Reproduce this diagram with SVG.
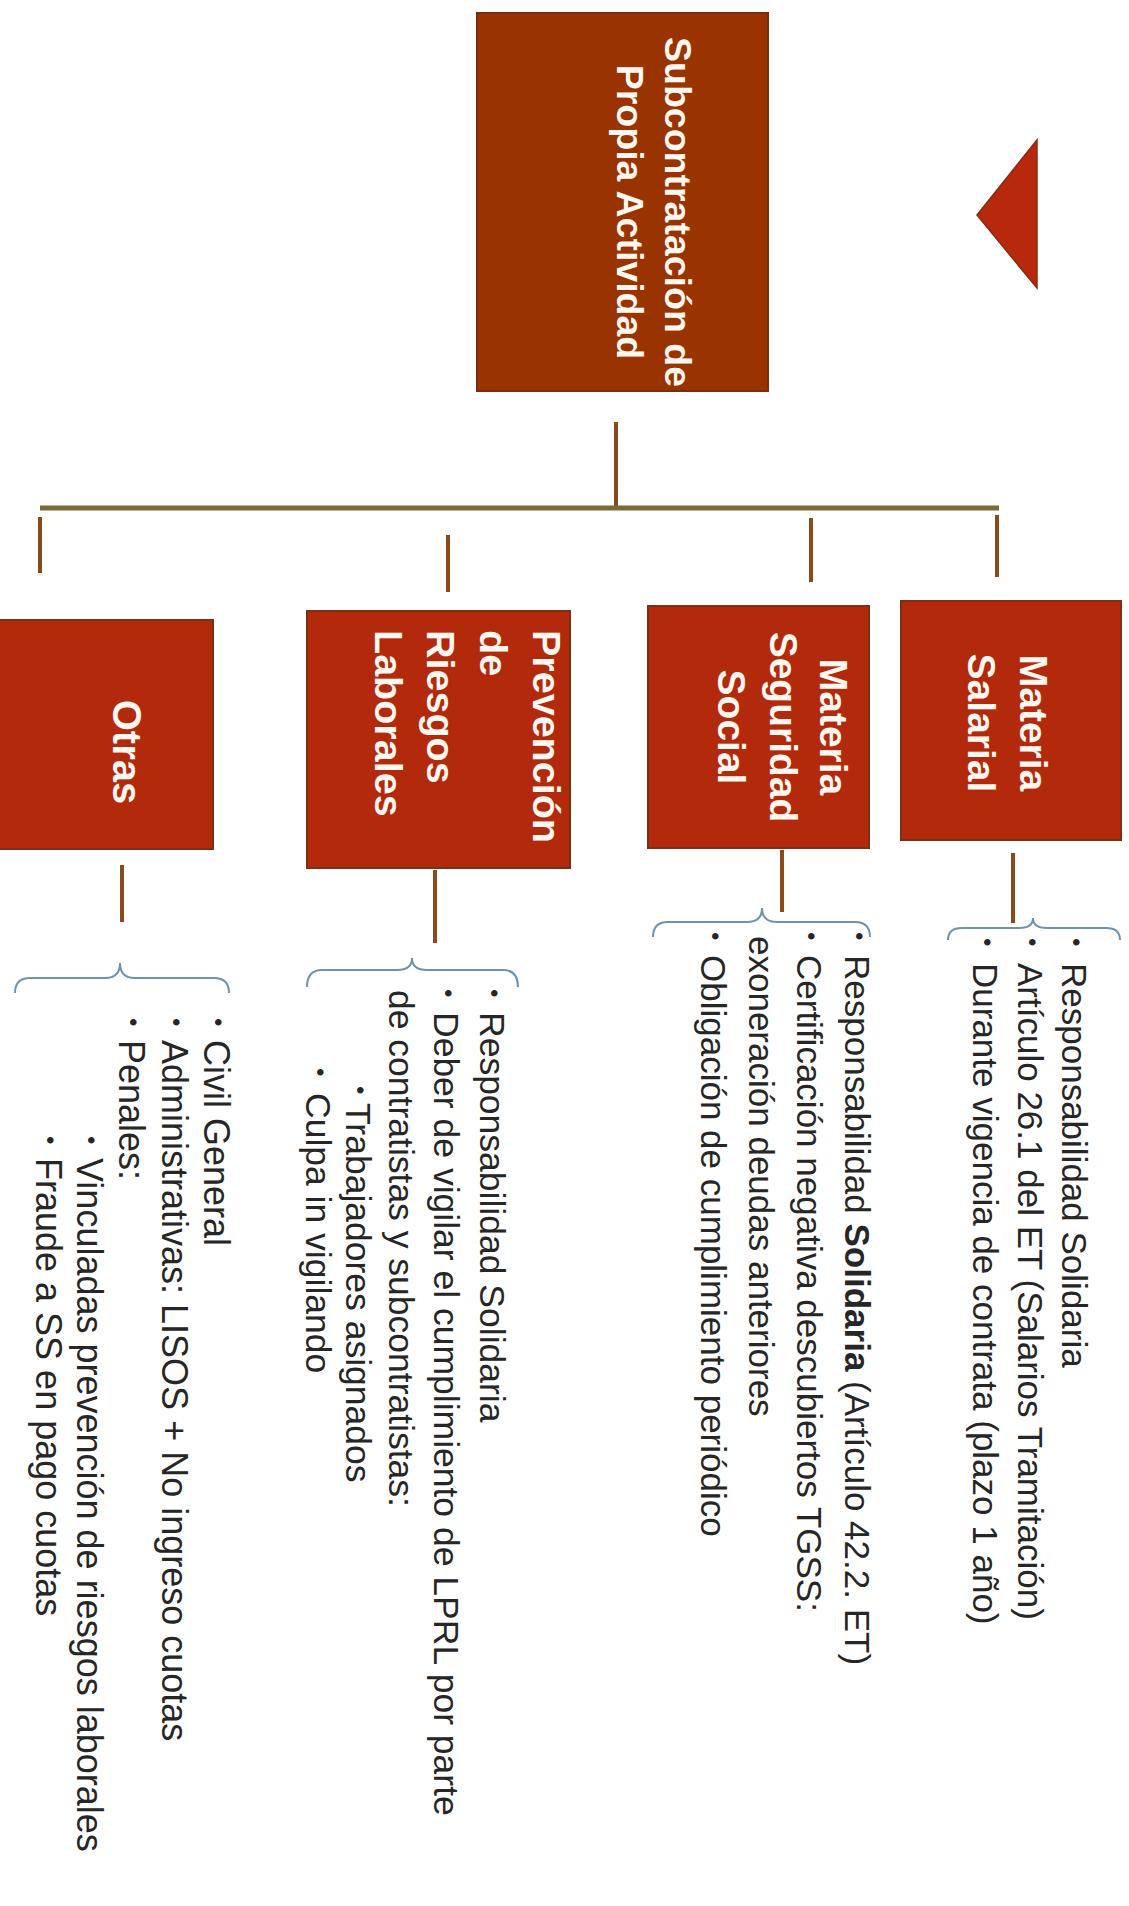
<svg xmlns="http://www.w3.org/2000/svg" width="1129" height="1906" viewBox="0 0 1129 1906">
  <style>
    .root { fill: #993300; stroke: #7a2c0c; stroke-width: 2; }
    .box { fill: #b3290b; stroke: #7e2e12; stroke-width: 2; }
    .hd { font-family: "Liberation Sans", Arial, sans-serif; font-weight: bold; fill: #fff7f0; }
    .lst { font-family: "Liberation Sans", Arial, sans-serif; font-size: 35px; fill: #262626; }
    .blt { font-size: 24px; }
    .bar { stroke: #7d6a3a; stroke-width: 5; fill: none; }
    .stem { stroke: #8a4a1c; stroke-width: 4; fill: none; }
    .brace { stroke: #6f93ab; stroke-width: 2; fill: none; }
  </style>

  <!-- page background -->
  <rect x="0" y="0" width="1129" height="1906" fill="#ffffff"/>

  <!-- decorative pointer -->
  <polygon points="977,215 1037,140 1037,288" fill="#b8280c" stroke="#8a2a10" stroke-width="1.5"/>

  <!-- connectors -->
  <g id="connectors">
    <line class="stem" x1="616" y1="422" x2="616" y2="508"/>
    <line class="bar" x1="40" y1="508" x2="999" y2="508"/>
    <line class="stem" x1="40" y1="517" x2="40" y2="573"/>
    <line class="stem" x1="448" y1="535" x2="448" y2="592"/>
    <line class="stem" x1="811" y1="518" x2="811" y2="582"/>
    <line class="stem" x1="997" y1="515" x2="997" y2="577"/>
    <line class="stem" x1="1013" y1="853" x2="1013" y2="923"/>
    <line class="stem" x1="782" y1="850" x2="782" y2="912"/>
    <line class="stem" x1="435" y1="870" x2="435" y2="943"/>
    <line class="stem" x1="122" y1="865" x2="122" y2="922"/>
    <!-- curly braces over each list -->
    <path class="brace" d="M948,940 Q948,928 962,928 L1019,928 Q1033,928 1033,918 Q1033,928 1047,928 L1106,928 Q1120,928 1120,940"/>
    <path class="brace" d="M653,937 Q653,922 668,922 L747,922 Q762,922 762,908 Q762,922 777,922 L855,922 Q870,922 870,937"/>
    <path class="brace" d="M307,987 Q307,970 322,970 L397,970 Q412,970 412,958 Q412,970 427,970 L503,970 Q518,970 518,987"/>
    <path class="brace" d="M15,993 Q15,978 30,978 L105,978 Q120,978 120,963 Q120,978 135,978 L214,978 Q229,978 229,993"/>
  </g>

  <!-- root node -->
  <g id="node-root">
    <rect class="root" x="477" y="13" width="291" height="378"/>
    <g transform="rotate(90)">
      <text class="hd" font-size="37.5" text-anchor="middle" x="212" y="-665">Subcontratación de</text>
      <text class="hd" font-size="37.5" text-anchor="middle" x="212" y="-617">Propia Actividad</text>
    </g>
  </g>

  <!-- Materia Salarial -->
  <g id="node-salarial">
    <rect class="box" x="901" y="601" width="220" height="239"/>
    <g transform="rotate(90)">
      <text class="hd" font-size="39" text-anchor="middle" x="723" y="-1020">Materia</text>
      <text class="hd" font-size="39" text-anchor="middle" x="723" y="-968">Salarial</text>
    </g>
  </g>
  <g id="list-salarial" transform="rotate(90)">
    <text class="lst" y="-1062"><tspan class="blt" x="938" dy="-6">•</tspan><tspan x="963" dy="6">Responsabilidad Solidaria</tspan></text>
    <text class="lst" y="-1018"><tspan class="blt" x="938" dy="-6">•</tspan><tspan x="963" dy="6">Artículo 26.1 del ET (Salarios Tramitación)</tspan></text>
    <text class="lst" y="-973"><tspan class="blt" x="938" dy="-6">•</tspan><tspan x="963" dy="6">Durante vigencia de contrata (plazo 1 año)</tspan></text>
  </g>

  <!-- Materia Seguridad Social -->
  <g id="node-seguridad">
    <rect class="box" x="648" y="606" width="221" height="242"/>
    <g transform="rotate(90)">
      <text class="hd" font-size="39" text-anchor="middle" x="727" y="-820">Materia</text>
      <text class="hd" font-size="39" text-anchor="middle" x="727" y="-770">Seguridad</text>
      <text class="hd" font-size="39" text-anchor="middle" x="727" y="-718">Social</text>
    </g>
  </g>
  <g id="list-seguridad" transform="rotate(90)">
    <text class="lst" y="-845"><tspan class="blt" x="932" dy="-6">•</tspan><tspan x="955" dy="6">Responsabilidad <tspan font-weight="bold">Solidaria</tspan> (Artículo 42.2. ET)</tspan></text>
    <text class="lst" y="-797"><tspan class="blt" x="932" dy="-6">•</tspan><tspan x="955" dy="6">Certificación negativa descubiertos TGSS:</tspan></text>
    <text class="lst" x="936" y="-749">exoneración deudas anteriores</text>
    <text class="lst" y="-701"><tspan class="blt" x="932" dy="-6">•</tspan><tspan x="955" dy="6">Obligación de cumplimiento periódico</tspan></text>
  </g>

  <!-- Prevención de Riesgos Laborales -->
  <g id="node-prevencion">
    <rect class="box" x="307" y="611" width="263" height="257"/>
    <g transform="rotate(90)">
      <text class="hd" font-size="39.5" x="630" y="-533">Prevención</text>
      <text class="hd" font-size="39.5" x="630" y="-480">de</text>
      <text class="hd" font-size="39.5" x="630" y="-427">Riesgos</text>
      <text class="hd" font-size="39.5" x="630" y="-375">Laborales</text>
    </g>
  </g>
  <g id="list-prevencion" transform="rotate(90)" font-size="35.5">
    <text class="lst" style="font-size:35.5px" y="-480"><tspan class="blt" x="989" dy="-6">•</tspan><tspan x="1012" dy="6">Responsabilidad Solidaria</tspan></text>
    <text class="lst" style="font-size:35.5px" y="-434"><tspan class="blt" x="989" dy="-6">•</tspan><tspan x="1012" dy="6">Deber de vigilar el cumplimiento de LPRL por parte</tspan></text>
    <text class="lst" style="font-size:35.5px" x="990" y="-389">de contratistas y subcontratistas:</text>
    <text class="lst" style="font-size:35.5px" y="-346"><tspan class="blt" x="1086" dy="-6">•</tspan><tspan x="1103" dy="6">Trabajadores asignados</tspan></text>
    <text class="lst" style="font-size:35.5px" y="-306"><tspan class="blt" x="1068" dy="-6">•</tspan><tspan x="1093" dy="6">Culpa in vigilando</tspan></text>
  </g>

  <!-- Otras -->
  <g id="node-otras">
    <rect class="box" x="-2" y="620" width="215" height="229"/>
    <g transform="rotate(90)">
      <text class="hd" font-size="40" text-anchor="middle" x="752" y="-113">Otras</text>
    </g>
  </g>
  <g id="list-otras" transform="rotate(90)">
    <text class="lst" style="font-size:36px" y="-204"><tspan class="blt" x="1018" dy="-6">•</tspan><tspan x="1040" dy="6">Civil General</tspan></text>
    <text class="lst" style="font-size:36px" y="-162"><tspan class="blt" x="1018" dy="-6">•</tspan><tspan x="1040" dy="6">Administrativas: LISOS + No ingreso cuotas</tspan></text>
    <text class="lst" style="font-size:36px" y="-119"><tspan class="blt" x="1018" dy="-6">•</tspan><tspan x="1040" dy="6">Penales:</tspan></text>
    <text class="lst" style="font-size:36px" y="-77"><tspan class="blt" x="1136" dy="-6">•</tspan><tspan x="1158" dy="6">Vinculadas prevención de riesgos laborales</tspan></text>
    <text class="lst" style="font-size:36px" y="-36"><tspan class="blt" x="1136" dy="-6">•</tspan><tspan x="1158" dy="6">Fraude a SS en pago cuotas</tspan></text>
  </g>
</svg>
